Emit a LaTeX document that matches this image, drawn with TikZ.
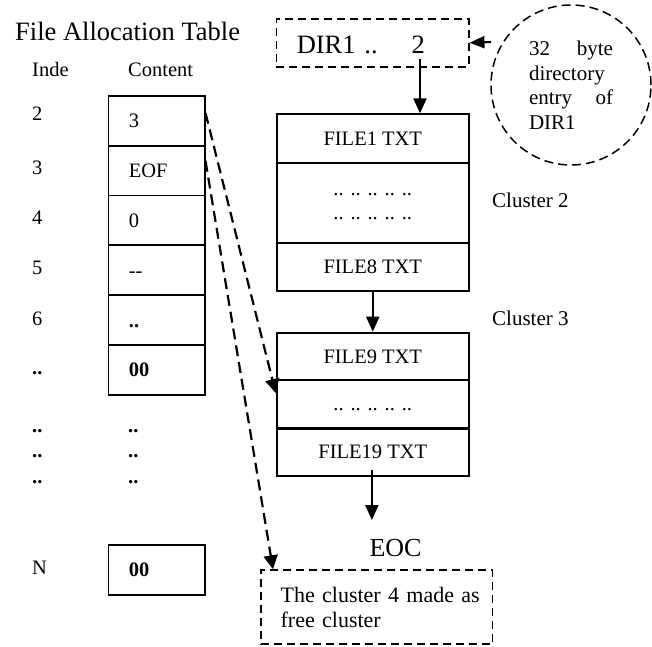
\documentclass[tikz,border=0pt]{standalone}
\usepackage{fontspec}
\setmainfont{Liberation Serif}
\usetikzlibrary{arrows.meta,calc}
\newcommand\fsz[2]{\fontsize{#1pt}{#2pt}\selectfont}
\begin{document}
\begin{tikzpicture}[x=1pt,y=-1pt,
  lbl/.style={inner sep=0pt, anchor=base west},
  fatcell/.style={draw, line width=1.8pt, anchor=north west, minimum width=96.2pt,
    minimum height=49.8pt, inner xsep=20.5pt, inner ysep=0pt, text width=55.2pt, align=left,
    text height=14pt, text depth=0pt, font=\fsz{20.5}{24}},
  clbox/.style={draw, line width=1.8pt, anchor=north west, minimum width=192.3pt,
    inner sep=0pt, align=center, font=\fsz{20.5}{24}},
  oneline/.style={text height=14pt, text depth=0pt},
  dashbox/.style={draw, line width=1.5pt, dash pattern=on 8pt off 5pt},
  solidarrow/.style={line width=2.2pt, -{Triangle[length=15pt,width=13pt]}},
  dasharrow/.style={line width=2.2pt, dash pattern=on 11pt off 6pt, -{Triangle[length=14pt,width=14pt]}}
]
\useasboundingbox (0,0) rectangle (652,646);

% ---- File allocation table ----
\node[lbl, font=\fsz{26.5}{30}] (title) at (15,40) {File Allocation Table};
\node[lbl, font=\fsz{20.5}{24}] (hidx) at (32,76) {Inde};
\node[lbl, font=\fsz{20.5}{24}] (hcon) at (128,76) {Content};

\node[lbl, font=\fsz{20.5}{24}] (i2) at (32,120.5) {2};
\node[lbl, font=\fsz{20.5}{24}] (i3) at (32,174) {3};
\node[lbl, font=\fsz{20.5}{24}] (i4) at (32,224) {4};
\node[lbl, font=\fsz{20.5}{24}] (i5) at (32,274) {5};
\node[lbl, font=\fsz{20.5}{24}] (i6) at (32,325) {6};
\node[lbl, font=\fsz{20.5}{24}] (i7) at (32,374) {\textbf{..}};
\node[lbl, font=\fsz{20.5}{24}] (i8) at (32,432) {\textbf{..}};
\node[lbl, font=\fsz{20.5}{24}] (i9) at (32,457) {\textbf{..}};
\node[lbl, font=\fsz{20.5}{24}] (i10) at (32,483) {\textbf{..}};
\node[lbl, font=\fsz{20.5}{24}] (iN) at (32,574) {N};

\node[fatcell] (c2) at (107.5,95) {3};
\node[fatcell] (c3) at (107.5,144.8) {EOF};
\node[fatcell] (c4) at (107.5,194.6) {0};
\node[fatcell] (c5) at (107.5,244.4) {-{}-};
\node[fatcell] (c6) at (107.5,294.2) {\textbf{..}};
\node[fatcell] (c7) at (107.5,344) {\textbf{00}};
\node[fatcell] (cN) at (107.5,544) {\textbf{00}};

\node[lbl, font=\fsz{20.5}{24}] (d8) at (128,432) {\textbf{..}};
\node[lbl, font=\fsz{20.5}{24}] (d9) at (128,457) {\textbf{..}};
\node[lbl, font=\fsz{20.5}{24}] (d10) at (128,483) {\textbf{..}};

% ---- Directory entry ----
\node[dashbox, anchor=north west, minimum width=192.3pt, minimum height=48pt,
  inner xsep=20.3pt, inner ysep=0pt, text width=151.7pt, align=left,
  text height=21pt, text depth=0pt, font=\fsz{26.5}{30}] (dir) at (275.7,18) {DIR1 ..\hspace{34pt}2};

\node[circle, draw, line width=1.5pt, dash pattern=on 9pt off 5pt, minimum size=160pt,
  inner sep=0pt, text width=84pt, align=left, font=\fsz{21}{24.5}] (circ) at (571,85)
  {\makebox[84pt][l]{32\hfill byte}\\directory\\\makebox[84pt][l]{entry\hfill of}\\DIR1};

% ---- Clusters ----
\node[clbox, oneline, minimum height=48.4pt] (k11) at (275.7,113.3) {FILE1 TXT};
\node[clbox, minimum height=80pt] (k12) at (275.7,161.7) {\strut.. .. .. .. ..\\\strut.. .. .. .. ..};
\node[clbox, oneline, minimum height=48.3pt] (k13) at (275.7,241.7) {FILE8 TXT};

\node[clbox, oneline, minimum height=47.3pt] (k21) at (275.7,331.7) {FILE9 TXT};
\node[clbox, oneline, minimum height=47.7pt] (k22) at (275.7,379) {.. .. .. .. ..};
\node[clbox, oneline, minimum height=48.3pt] (k23) at (275.7,426.7) {FILE19 TXT};
\draw[line width=3pt] (k22.south west) -- (k22.south east);

\node[lbl, font=\fsz{21}{24}] (cl2) at (492,207) {Cluster 2};
\node[lbl, font=\fsz{21}{24}] (cl3) at (492,325) {Cluster 3};

\node[inner sep=0pt, anchor=base, font=\fsz{26}{30}] (eoc) at (395.5,556.7) {EOC};

\node[dashbox, anchor=north west, minimum width=231.7pt, minimum height=74pt,
  inner xsep=19.85pt, inner ysep=0pt, text width=192pt, align=left, font=\fsz{22}{25}] (free)
  at (260,569.3) {\mbox{The cluster 4 made as}\\free cluster};

% ---- Connectors ----
\coordinate (dirtail) at (420,59);
\draw[solidarrow] (dirtail) -- (k11.north -| dirtail);
\draw[solidarrow] (k13.south) -- (k21.north);
\coordinate (eoctop) at (371.85,470);
\coordinate (eoctip) at (371.85,520);
\draw[solidarrow] (eoctop) -- (eoctip);

\coordinate (ctail) at (491,42);
\draw[line width=2pt, dash pattern=on 8pt off 5pt, -{Triangle[length=15pt,width=12pt]}] (ctail) -- (dir.east);

\draw[dasharrow] ($(c2.north east)+(0,18)$) -- ($(k22.north west)+(0,14)$);
\draw[dasharrow] ($(c3.north east)+(0,16)$) -- ($(free.north west)+(13,0)$);
\end{tikzpicture}
\end{document}
